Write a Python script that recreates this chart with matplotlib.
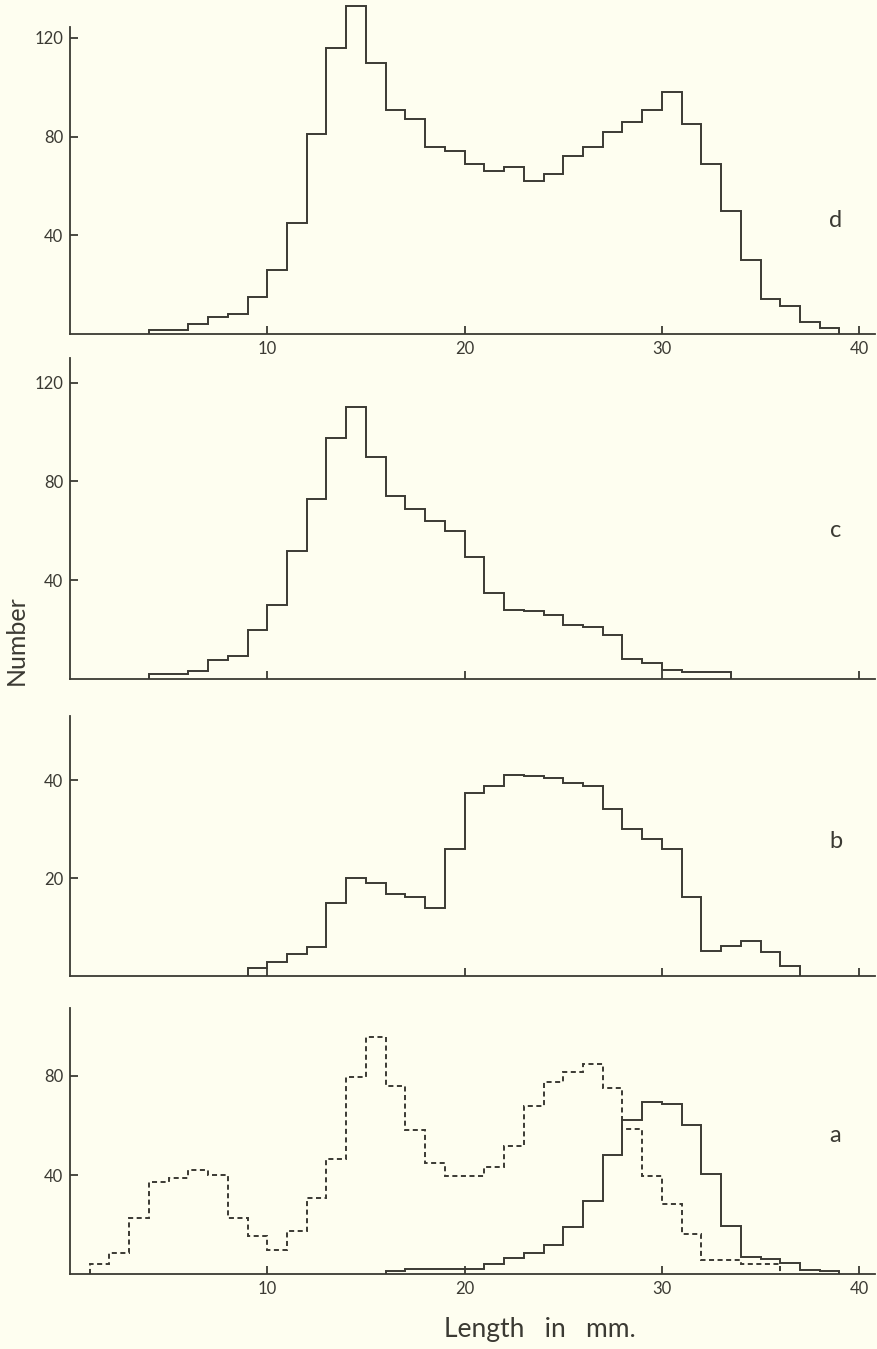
import numpy as np
import matplotlib
matplotlib.use("Agg")
from matplotlib import pyplot as plt

# length classes (mm) and counts
d_edges = np.arange(4, 40)
d_counts = [1.8, 1.8, 4.0, 6.9, 8.1, 15, 26, 45, 81, 116, 133, 110, 91, 87, 76,
            74, 69, 66, 67.5, 62, 65, 72, 76, 82, 86, 91, 98, 85, 69, 50, 30,
            14, 11.4, 5, 2.4]

c_edges = list(range(4, 32)) + [33.5]
c_counts = [2.1, 2.1, 3.4, 7.5, 9.5, 19.7, 30, 52, 73, 97.5, 110, 90, 74, 69,
            64, 60, 49.5, 35, 28, 27.5, 26, 22, 21, 17.7, 7.9, 6.6, 3.7, 3]

b_edges = np.arange(9, 38)
b_counts = [1.6, 2.8, 4.5, 6, 15, 20, 19, 16.8, 16.1, 14, 26, 37.4, 38.9,
            41.2, 40.9, 40.4, 39.4, 38.9, 34.1, 30.1, 28, 26, 16.1, 5.1, 6.1,
            7.2, 5, 2]

a_dash_edges = np.arange(1, 37)
a_dash_counts = [4.2, 8.6, 22.7, 37.2, 38.9, 42.2, 40.2, 22.7, 15.3, 9.5, 17.3,
                 30.8, 46.5, 79.5, 95.7, 75.9, 58.1, 45, 39.5, 39.5, 43.3, 51.6,
                 67.8, 77.5, 81.5, 84.9, 75.2, 58.4, 39.5, 28.1, 16, 5.6, 5.6,
                 4.2, 4.2]

a_solid_edges = np.arange(16, 40)
a_solid_counts = [1.3, 2, 2, 2, 2.1, 4.2, 6.3, 8.3, 11.9, 19.1, 29.4, 47.9,
                  62.4, 69.6, 68.5, 60.4, 40.5, 19.3, 6.8, 5.9, 4.5, 1.8, 1.1]

W, H = 878, 1349
bg = '#fefef0'
ink = '#3b3a33'
font = 'Lato'

fig = plt.figure(figsize=(W / 100, H / 100), dpi=100, facecolor=bg)

px_mm = 19.73
xmax = 40.8

# baseline pixel, px per count, y limit, spine top, y ticks, x labels, letter, letter y
panels = [
    (334, 2.467, 135, 124.4, [40, 80, 120], True, 'd', 46),
    (679, 2.469, 132, 130, [40, 80, 120], False, 'c', 60),
    (976, 4.89, 55, 53.2, [20, 40], False, 'b', 27.5),
    (1274, 2.475, 110, 107.6, [40, 80], True, 'a', 56),
]
data = [
    [(d_edges, d_counts, '-')],
    [(c_edges, c_counts, '-')],
    [(b_edges, b_counts, '-')],
    [(a_dash_edges, a_dash_counts, (0, (2.6, 1.8))),
     (a_solid_edges, a_solid_counts, '-')],
]

for (base, ppu, ytop, stop, yt, xlab, letter, ly), series in zip(panels, data):
    h = ytop * ppu
    ax = fig.add_axes([70 / W, 1 - base / H, xmax * px_mm / W, h / H])
    ax.patch.set_alpha(0)
    for edges, counts, ls in series:
        ax.stairs(counts, edges, baseline=0, color=ink, lw=1.4, linestyle=ls)
    ax.set_xlim(0, xmax)
    ax.set_ylim(0, ytop)
    for s in ['top', 'right']:
        ax.spines[s].set_visible(False)
    ax.spines['left'].set_bounds(0, stop)
    for s in ['left', 'bottom']:
        ax.spines[s].set_color(ink)
        ax.spines[s].set_linewidth(1.3)
    ax.set_xticks([10, 20, 30, 40])
    ax.set_yticks(yt)
    ax.tick_params(direction='in', length=6, width=1.3, color=ink,
                   labelcolor=ink, labelsize=12, pad=5)
    if not xlab:
        ax.set_xticklabels([])
    for lab in ax.get_xticklabels() + ax.get_yticklabels():
        lab.set_family(font)
    ax.text(38.8, ly, letter, ha='center', va='center', fontsize=17,
            color=ink, family=font)

fig.text(16 / W, 1 - 640 / H, 'Number', rotation=90, ha='center',
         va='center', fontsize=18, color=ink, family=font)
fig.text(540 / W, 1 - 1330 / H, 'Length   in   mm.', ha='center',
         va='center', fontsize=19, color=ink, family=font)

fig.savefig('out.png', dpi=100, facecolor=bg)
